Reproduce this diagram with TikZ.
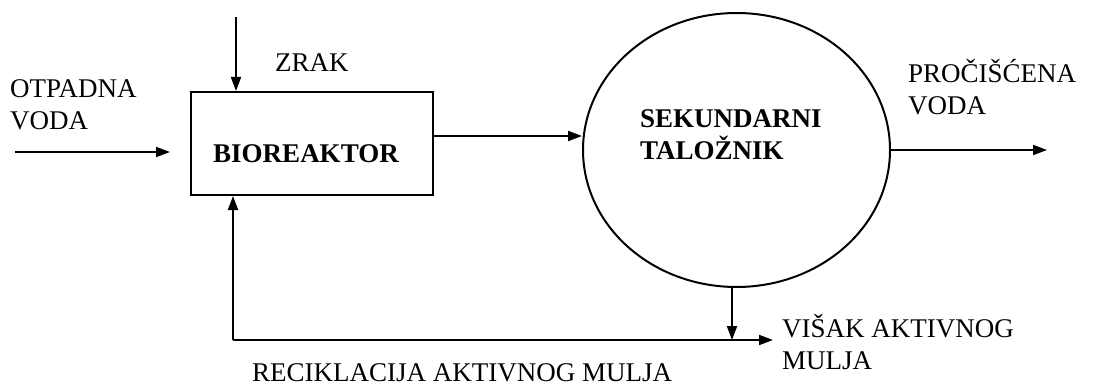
\documentclass[tikz,border=0pt]{standalone}
\usepackage{fontspec}
\setmainfont{Liberation Serif}
\usetikzlibrary{arrows.meta,shapes.geometric}
\begin{document}
\begin{tikzpicture}[x=1pt,y=-1pt,
  flow/.style={line width=2pt,-{Triangle[length=14pt,width=10pt]}},
  lbl/.style={inner sep=0pt,anchor=base west,align=left,font=\fontsize{27}{32}\selectfont},
  blbl/.style={lbl,font=\fontsize{27}{32}\selectfont\bfseries}]
\useasboundingbox (0,0) rectangle (1097,385);
% shapes
\node[draw,line width=2pt,minimum width=242pt,minimum height=103pt,inner sep=0pt] (bio) at (312,143.5) {};
\node[blbl,anchor=base] (biotxt) at (306,162) {BIOREAKTOR};
\node[draw,ellipse,line width=2pt,minimum width=307pt,minimum height=274pt,inner sep=0pt] (sed) at (736.5,150) {};
\node[blbl] (sedtxt) at (640,159) {SEKUNDARNI\\TALOŽNIK};
% labels
\node[lbl] (zrak) at (275,72) {ZRAK};
\node[lbl] (otp) at (10,129) {OTPADNA\\VODA};
\node[lbl] (proc) at (908,114) {PROČIŠĆENA\\VODA};
\node[lbl] (visak) at (782,369) {VIŠAK AKTIVNOG\\MULJA};
\node[lbl] (recik) at (252,381) {RECIKLACIJA AKTIVNOG MULJA};
% coordinates
\coordinate (zin) at (236,17);
\coordinate (win) at (15,152);
\coordinate (wend) at (170,152);
\coordinate (outend) at (1047,150);
\coordinate (junc) at (732,340);
\coordinate (exend) at (773,340);
\coordinate (corner) at (233,340);
% connectors
\draw[flow] (zin) -- (zin |- bio.north);
\draw[flow] (win) -- (wend);
\draw[flow] (bio.east |- 0,136) -- (sed.west |- 0,136);
\draw[flow] (sed.east) -- (outend);
\draw[flow] (junc |- sed.south) -- (junc);
\draw[flow] (corner) -- (exend);
\draw[flow] (corner) -- (corner |- bio.south);
\end{tikzpicture}
\end{document}
